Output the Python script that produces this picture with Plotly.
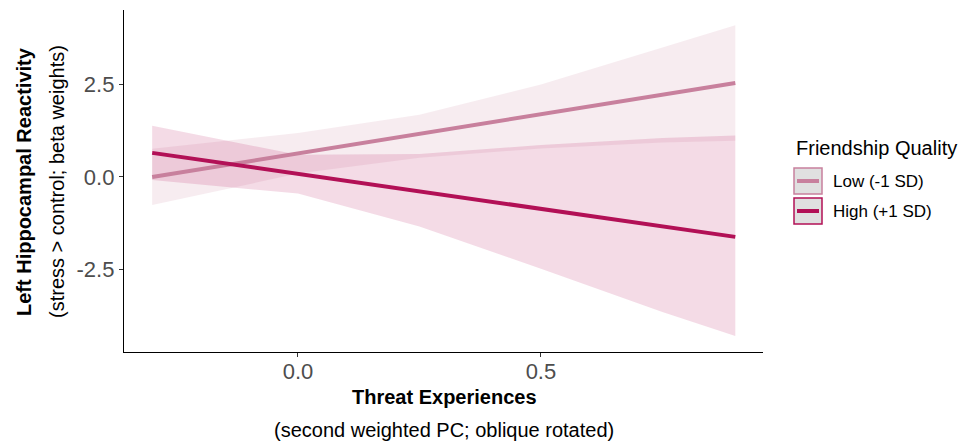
import plotly.graph_objects as go

# Simple-slopes estimates of hippocampal reactivity across threat experiences
threat = [-0.30, 0.00, 0.25, 0.50, 0.75, 0.90]

low_fit = [0.00, 0.64, 1.17, 1.70, 2.23, 2.54]
low_lower = [-0.76, 0.09, 0.52, 0.77, 0.93, 0.98]
low_upper = [0.76, 1.19, 1.68, 2.50, 3.50, 4.10]

high_fit = [0.65, 0.08, -0.39, -0.86, -1.33, -1.62]
high_lower = [-0.08, -0.45, -1.34, -2.48, -3.65, -4.30]
high_upper = [1.38, 0.60, 0.62, 0.86, 1.05, 1.12]

groups = ["Low (-1 SD)", "High (+1 SD)"]
x_ticks = [0.0, 0.5]
x_tick_text = ["0.0", "0.5"]
y_ticks = [-2.5, 0.0, 2.5]
y_tick_text = ["-2.5", "0.0", "2.5"]

LOW_RGB = (200, 128, 157)
HIGH_RGB = (178, 16, 86)


def rgb(c, a=None):
    if a is None:
        return "rgb(%d,%d,%d)" % c
    return "rgba(%d,%d,%d,%.2f)" % (c + (a,))


W, H = 959, 443
L, R, T, B = 124, 196, 10, 91
PW, PH = W - L - R, H - T - B
FONT = "Liberation Sans, Arial, sans-serif"


def px(x):
    return (x - L) / PW


def py(y):
    return (H - B - y) / PH


fig = go.Figure()

series = [
    (low_fit, low_lower, low_upper, LOW_RGB),
    (high_fit, high_lower, high_upper, HIGH_RGB),
]

# confidence ribbons
for fit, lo, hi, col in series:
    fig.add_trace(go.Scatter(
        x=threat + threat[::-1],
        y=hi + lo[::-1],
        fill="toself",
        fillcolor=rgb(col, 0.15),
        line=dict(width=0),
        mode="lines",
        hoverinfo="skip",
        showlegend=False,
    ))

# fitted slopes
for (fit, lo, hi, col), name in zip(series, groups):
    fig.add_trace(go.Scatter(
        x=threat, y=fit, mode="lines", name=name,
        line=dict(color=rgb(col), width=4),
        showlegend=False,
    ))

axis_common = dict(
    showgrid=False, zeroline=False, showline=True,
    linecolor="black", linewidth=1.4,
    ticks="outside", ticklen=4, tickwidth=1.2, tickcolor="#333333",
    tickfont=dict(family=FONT, size=22, color="#4d4d4d"),
)
fig.update_xaxes(range=[-0.358, 0.957], tickvals=x_ticks, ticktext=x_tick_text,
                 ticklabelstandoff=-5, **axis_common)
fig.update_yaxes(range=[-4.73, 4.51], tickvals=y_ticks, ticktext=y_tick_text,
                 **axis_common)

annotations = [
    dict(x=px(444), y=py(397), text="<b>Threat Experiences</b>",
         font=dict(size=20, color="black")),
    dict(x=px(444), y=py(430), text="(second weighted PC; oblique rotated)",
         font=dict(size=20, color="black")),
    dict(x=px(24), y=py(182), text="<b>Left Hippocampal Reactivity</b>",
         textangle=-90, font=dict(size=20, color="black")),
    dict(x=px(57), y=py(182), text="(stress &gt; control; beta weights)",
         textangle=-90, font=dict(size=20, color="black")),
    dict(x=px(794), y=py(148), text="Friendship Quality", xanchor="left",
         font=dict(size=20, color="black")),
]

shapes = []
key_tops = [168, 198]
for (fit, lo, hi, col), name, top in zip(series, groups, key_tops):
    shapes.append(dict(type="rect", xref="paper", yref="paper",
                       x0=px(794), x1=px(822), y0=py(top + 26), y1=py(top),
                       fillcolor="#e0e0e0", line=dict(color=rgb(col), width=1.5)))
    cy = top + 13
    shapes.append(dict(type="line", xref="paper", yref="paper",
                       x0=px(797), x1=px(819), y0=py(cy), y1=py(cy),
                       line=dict(color=rgb(col), width=4)))
    annotations.append(dict(x=px(831), y=py(cy), text=name, xanchor="left",
                            font=dict(size=17, color="black")))

for a in annotations:
    a.setdefault("xanchor", "center")
    a.update(xref="paper", yref="paper", yanchor="middle", showarrow=False)
    a["font"]["family"] = FONT

fig.update_layout(
    width=W, height=H,
    margin=dict(l=L, r=R, t=T, b=B),
    paper_bgcolor="white", plot_bgcolor="white",
    annotations=annotations, shapes=shapes,
    showlegend=False,
)

fig.write_html("out.html")
